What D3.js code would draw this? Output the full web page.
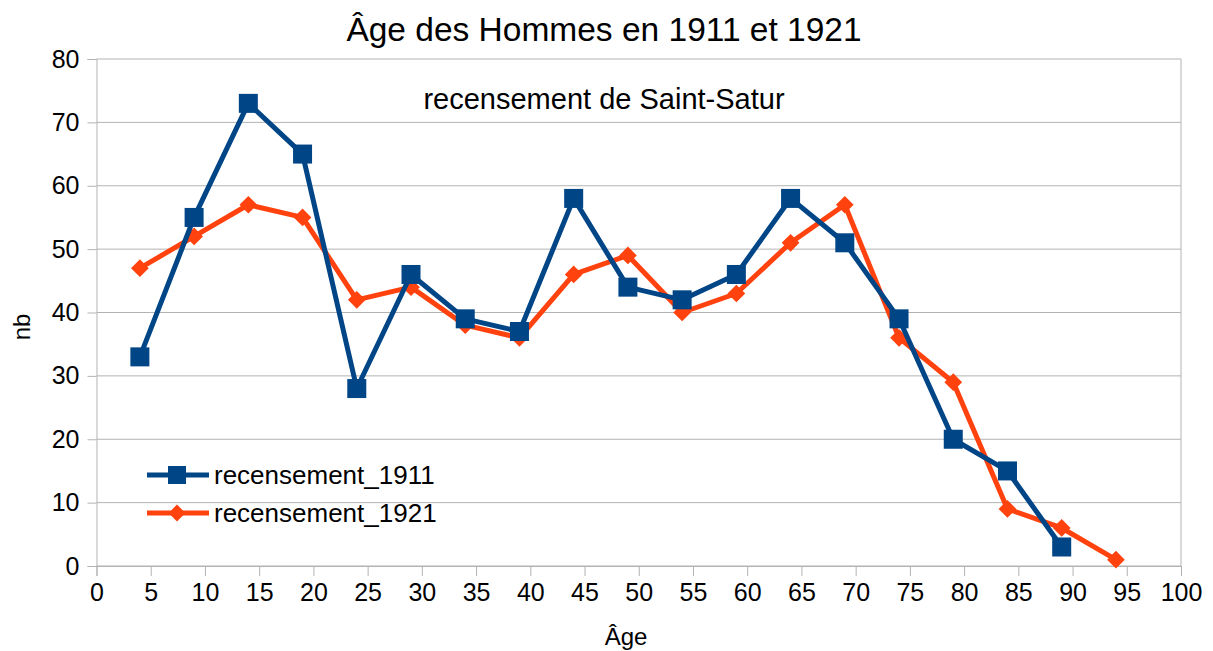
<!DOCTYPE html>
<html>
<head>
<meta charset="utf-8">
<script src="https://cdn.jsdelivr.net/npm/d3@7"></script>
<style>
  body { margin: 0; background: #fff; }
  svg text { font-family: "Liberation Sans", Arial, sans-serif; fill: #000; }
</style>
</head>
<body>
<div id="chart"></div>
<script>
// age groups (x) and counts per census
const ages1911 = [4, 9, 14, 19, 24, 29, 34, 39, 44, 49, 54, 59, 64, 69, 74, 79, 84, 89];
const values1911 = [33, 55, 73, 65, 28, 46, 39, 37, 58, 44, 42, 46, 58, 51, 39, 20, 15, 3];
const ages1921 = [4, 9, 14, 19, 24, 29, 34, 39, 44, 49, 54, 59, 64, 69, 74, 79, 84, 89, 94];
const values1921 = [47, 52, 57, 55, 42, 44, 38, 36, 46, 49, 40, 43, 51, 57, 36, 29, 9, 6, 1];
const xTicks = d3.range(0, 101, 5);
const yTicks = d3.range(0, 81, 10);

const width = 1213, height = 651;
const margin = { top: 59, right: 32, bottom: 85, left: 96.5 };
const plotW = 1181 - margin.left;
const plotH = 566 - margin.top;

const svg = d3.select("#chart").append("svg")
  .attr("width", width)
  .attr("height", height);

const x = d3.scaleLinear().domain([0, 100]).range([0, plotW]);
const y = d3.scaleLinear().domain([0, 80]).range([plotH, 0]);

const g = svg.append("g")
  .attr("transform", "translate(" + margin.left + "," + margin.top + ")");

// horizontal grid
g.append("g")
  .selectAll("line")
  .data(yTicks)
  .join("line")
  .attr("x1", 0).attr("x2", plotW)
  .attr("y1", d => y(d)).attr("y2", d => y(d))
  .attr("stroke", "#b3b3b3")
  .attr("stroke-width", 1);

// right border of the plot
g.append("line")
  .attr("x1", plotW).attr("x2", plotW)
  .attr("y1", 0).attr("y2", plotH)
  .attr("stroke", "#b3b3b3");

// x axis
const xAxis = g.append("g")
  .attr("transform", "translate(0," + plotH + ")")
  .call(d3.axisBottom(x).tickValues(xTicks).tickSize(10).tickPadding(7));
xAxis.select(".domain").attr("stroke", "#b3b3b3");
xAxis.selectAll(".tick line").attr("stroke", "#b3b3b3");
xAxis.selectAll("text").attr("font-size", 25).attr("fill", "#000");

// y axis
const yAxis = g.append("g")
  .call(d3.axisLeft(y).tickValues(yTicks).tickSize(9).tickPadding(8));
yAxis.select(".domain").attr("stroke", "#b3b3b3");
yAxis.selectAll(".tick line").attr("stroke", "#b3b3b3");
yAxis.selectAll("text").attr("font-size", 25).attr("fill", "#000");

const line = d3.line()
  .x(d => x(d[0]))
  .y(d => y(d[1]));

const s1911 = ages1911.map((a, i) => [a, values1911[i]]);
const s1921 = ages1921.map((a, i) => [a, values1921[i]]);

const blue = "#004586", orange = "#ff420e";

// 1921 series (drawn below)
g.append("path")
  .datum(s1921)
  .attr("d", line)
  .attr("fill", "none")
  .attr("stroke", orange)
  .attr("stroke-width", 5)
  .attr("stroke-linejoin", "round");

g.append("g")
  .selectAll("path")
  .data(s1921)
  .join("path")
  .attr("d", d3.symbol().type(d3.symbolDiamond2).size(200))
  .attr("transform", d => "translate(" + x(d[0]) + "," + y(d[1]) + ")")
  .attr("fill", orange);

// 1911 series
g.append("path")
  .datum(s1911)
  .attr("d", line)
  .attr("fill", "none")
  .attr("stroke", blue)
  .attr("stroke-width", 5)
  .attr("stroke-linejoin", "round");

g.append("g")
  .selectAll("rect")
  .data(s1911)
  .join("rect")
  .attr("x", d => x(d[0]) - 9.5)
  .attr("y", d => y(d[1]) - 9.5)
  .attr("width", 19)
  .attr("height", 19)
  .attr("fill", blue);

// titles
svg.append("text")
  .attr("x", 604).attr("y", 41)
  .attr("text-anchor", "middle")
  .attr("font-size", 33.5)
  .text("Âge des Hommes en 1911 et 1921");

svg.append("text")
  .attr("x", 604).attr("y", 109)
  .attr("text-anchor", "middle")
  .attr("font-size", 29)
  .text("recensement de Saint-Satur");

svg.append("text")
  .attr("x", 626).attr("y", 645)
  .attr("text-anchor", "middle")
  .attr("font-size", 24)
  .text("Âge");

svg.append("text")
  .attr("transform", "translate(30,327) rotate(-90)")
  .attr("text-anchor", "middle")
  .attr("font-size", 24)
  .text("nb");

// legend
const legend = svg.append("g").attr("transform", "translate(147,475)");
const legendItems = [
  { name: "recensement_1911", color: blue, shape: "square" },
  { name: "recensement_1921", color: orange, shape: "diamond" }
];
const li = legend.selectAll("g")
  .data(legendItems)
  .join("g")
  .attr("transform", (d, i) => "translate(0," + i * 38 + ")");
li.append("line")
  .attr("x1", 0).attr("x2", 62)
  .attr("stroke", d => d.color)
  .attr("stroke-width", 5);
li.filter(d => d.shape === "square").append("rect")
  .attr("x", 21).attr("y", -9).attr("width", 18).attr("height", 18)
  .attr("fill", d => d.color);
li.filter(d => d.shape === "diamond").append("path")
  .attr("d", d3.symbol().type(d3.symbolDiamond2).size(180))
  .attr("transform", "translate(30,0)")
  .attr("fill", d => d.color);
li.append("text")
  .attr("x", 67).attr("y", 9)
  .attr("font-size", 26)
  .text(d => d.name);
</script>
</body>
</html>
